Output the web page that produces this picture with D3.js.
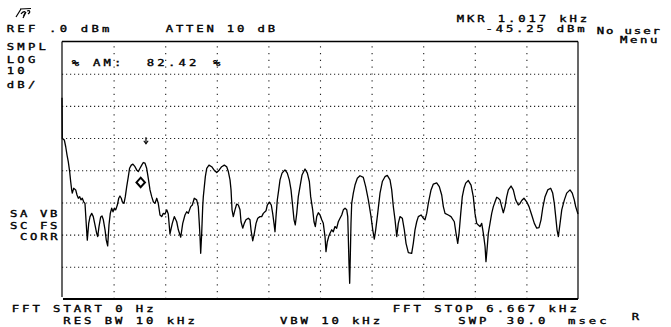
<!DOCTYPE html>
<html>
<head>
<meta charset="utf-8">
<script src="https://cdn.jsdelivr.net/npm/d3@7/dist/d3.min.js"></script>
<style>
  html, body { margin: 0; padding: 0; background: #fff; }
  svg { display: block; }
  text { font-family: "DejaVu Sans Mono", "Liberation Mono", monospace; fill: #000; }
</style>
</head>
<body>
<svg id="chart" width="671" height="327"></svg>
<script>
// Analyzer settings
const startKHz = 0;
const stopKHz = 6.667;
const refLevelDbm = 0;
const dbPerDiv = 10;
const xDivisions = 10;
const yDivisions = 8;

// Marker readout
const markerKHz = 1.017;
const markerDbm = -45.25;
const peakArrowKHz = 1.085;
const peakArrowDbm = -31.6;

// Trace: frequency (kHz) and level (dBm)
const traceKHz = [
  0.000,0.004,0.030,0.048,0.065,0.081,0.099,0.112,0.125,0.133,0.151,0.177,0.194,0.211,0.229,0.245,0.262,0.280,0.297,0.314,
  0.327,0.345,0.362,0.384,0.404,0.426,0.448,0.461,0.478,0.500,0.517,0.534,0.556,0.572,0.590,0.607,0.624,0.642,0.659,0.676,
  0.694,0.715,0.733,0.749,0.766,0.779,0.801,0.818,0.836,0.857,0.873,0.895,0.916,0.943,0.965,0.986,1.008,1.030,1.050,1.072,
  1.094,1.115,1.137,1.159,1.180,1.202,1.224,1.244,1.266,1.288,1.309,1.331,1.353,1.373,1.395,1.425,1.451,1.482,1.503,1.534,
  1.560,1.589,1.611,1.632,1.663,1.684,1.709,1.740,1.761,1.774,1.783,1.792,1.805,1.818,1.826,1.839,1.852,1.870,1.899,1.934,
  1.964,1.999,2.032,2.063,2.097,2.128,2.149,2.171,2.184,2.197,2.213,2.235,2.257,2.278,2.300,2.313,2.335,2.355,2.377,2.407,
  2.429,2.442,2.464,2.485,2.507,2.529,2.558,2.580,2.601,2.636,2.653,2.679,2.704,2.722,2.739,2.752,2.765,2.782,2.800,2.817,
  2.843,2.881,2.911,2.937,2.959,2.981,2.998,3.014,3.033,3.053,3.075,3.101,3.140,3.170,3.196,3.213,3.239,3.256,3.273,3.291,
  3.312,3.334,3.356,3.376,3.398,3.411,3.428,3.446,3.463,3.485,3.505,3.527,3.549,3.570,3.592,3.614,3.635,3.657,3.679,3.692,
  3.699,3.708,3.717,3.725,3.734,3.743,3.764,3.786,3.816,3.850,3.893,3.924,3.958,3.993,4.015,4.035,4.053,4.079,4.109,4.139,
  4.173,4.203,4.238,4.260,4.281,4.303,4.325,4.345,4.367,4.397,4.423,4.445,4.475,4.518,4.539,4.561,4.583,4.604,4.639,4.668,
  4.690,4.712,4.733,4.768,4.798,4.841,4.875,4.906,4.927,4.949,4.991,5.026,5.069,5.091,5.113,5.130,5.152,5.172,5.194,5.216,
  5.250,5.285,5.314,5.336,5.358,5.379,5.401,5.423,5.444,5.466,5.478,5.495,5.508,5.530,5.552,5.573,5.595,5.617,5.637,5.659,
  5.681,5.702,5.724,5.746,5.767,5.802,5.831,5.862,5.896,5.918,5.940,5.969,6.004,6.034,6.069,6.103,6.134,6.163,6.189,6.211,
  6.241,6.276,6.314,6.340,6.361,6.379,6.396,6.413,6.435,6.457,6.491,6.521,6.564,6.593,6.619,6.637,6.667
];
const traceDbm = [
  -17.5,-30.1,-30.6,-32.7,-35.3,-37.3,-40.4,-43.5,-46.1,-47.1,-45.6,-46.1,-47.7,-48.7,-48.2,-49.2,-48.7,-49.8,-50.3,-57.0,
  -61.7,-56.5,-54.4,-53.4,-54.4,-57.0,-59.6,-60.6,-57.5,-54.5,-54.2,-55.4,-58.5,-61.7,-63.5,-57.0,-53.4,-51.8,-52.9,-51.8,
  -52.3,-50.8,-48.7,-48.0,-48.7,-49.8,-50.3,-48.2,-45.1,-42.0,-39.4,-38.4,-38.1,-38.9,-39.9,-40.4,-39.4,-38.4,-37.6,-37.8,
  -39.4,-42.5,-46.1,-48.2,-49.8,-50.3,-48.7,-50.3,-53.9,-54.4,-53.4,-53.6,-52.3,-53.6,-59.8,-56.5,-54.4,-56.0,-58.5,-60.8,
  -56.5,-53.9,-52.9,-53.4,-51.3,-50.8,-48.7,-49.2,-51.3,-56.5,-60.6,-65.8,-59.6,-51.3,-48.2,-45.1,-42.0,-39.4,-38.4,-38.9,
  -39.9,-40.7,-39.9,-38.9,-38.4,-38.9,-40.4,-43.0,-46.1,-52.3,-54.4,-52.3,-50.5,-50.8,-52.3,-56.0,-58.0,-56.5,-55.4,-54.9,
  -55.4,-58.5,-61.9,-59.6,-56.5,-54.9,-54.4,-54.4,-53.4,-52.6,-50.8,-49.9,-50.8,-53.4,-56.5,-59.1,-54.4,-49.2,-46.1,-43.0,
  -40.9,-39.9,-40.9,-43.0,-46.1,-51.3,-55.4,-57.0,-53.4,-48.2,-45.1,-41.5,-39.6,-40.9,-43.5,-48.2,-52.3,-56.0,-57.5,-54.4,
  -53.2,-53.9,-55.4,-56.5,-60.6,-65.3,-62.2,-60.6,-59.6,-58.5,-59.1,-57.5,-58.0,-56.0,-54.9,-53.9,-52.3,-51.8,-52.3,-54.4,
  -60.6,-68.9,-75.1,-66.8,-56.5,-50.3,-47.1,-44.6,-42.5,-41.7,-42.2,-45.1,-49.2,-54.4,-58.5,-61.4,-58.5,-53.4,-47.1,-43.5,
  -42.0,-41.6,-43.0,-46.1,-51.3,-55.4,-60.6,-56.5,-54.4,-54.9,-58.5,-62.7,-65.6,-65.8,-62.7,-58.5,-56.0,-54.4,-53.9,-54.9,
  -55.4,-53.4,-50.3,-46.1,-44.3,-43.9,-45.1,-47.7,-51.3,-53.4,-53.9,-54.4,-56.0,-59.6,-62.7,-59.6,-53.4,-48.2,-45.6,-44.0,
  -43.2,-44.6,-48.2,-53.4,-56.5,-57.0,-57.5,-56.5,-59.6,-63.7,-68.4,-63.7,-59.6,-56.5,-53.4,-51.3,-49.8,-48.4,-48.7,-49.2,
  -51.3,-53.2,-51.3,-48.2,-46.1,-44.9,-46.1,-49.2,-50.8,-50.3,-49.4,-48.7,-49.8,-51.3,-53.9,-56.5,-58.0,-57.8,-55.4,-51.8,
  -48.2,-46.1,-45.6,-47.1,-50.3,-54.4,-58.5,-60.6,-56.5,-52.3,-49.2,-47.1,-46.1,-47.1,-49.2,-51.3,-53.6
];

// Screen annotations
const headerLabels = [
  { text: "REF .0 dBm",     x: 6.7,   y: 32.3,  pitch: 10.6 },
  { text: "ATTEN 10 dB",    x: 165.7, y: 32.3,  pitch: 10.2 },
  { text: "MKR 1.017 kHz",  x: 456.7, y: 22.3,  pitch: 10.25 },
  { text: "-45.25 dBm",     x: 485.5, y: 31.7,  pitch: 10.2 }
];
// Two-line softkey caption, set a touch smaller
const menuCaption = [
  { text: "No user", x: 596.7, y: 34.4, pitch: 9.3 },
  { text: "Menu",    x: 620,   y: 43.0, pitch: 10.0 }
];
const sideLabels = [
  { text: "SMPL",  x: 6.7, y: 50,    pitch: 10.6 },
  { text: "LOG",   x: 6.7, y: 63.3,  pitch: 10.6 },
  { text: "10",    x: 6.7, y: 74,    pitch: 10.6 },
  { text: "dB/",   x: 6.7, y: 87.7,  pitch: 10.6 },
  { text: "SA VB", x: 10,  y: 217,   pitch: 10.0 },
  { text: "SC FS", x: 10,  y: 229,   pitch: 10.0 },
  { text: "CORR",  x: 20,  y: 240,   pitch: 10.1 }
];
const readoutLabels = [
  { text: "% AM:", x: 71.7,  y: 65.7, pitch: 10.6 },
  { text: "82.42", x: 146.7, y: 65.7, pitch: 10.6 },
  { text: "%",     x: 213,   y: 65.7, pitch: 10.6 }
];
const footerLabels = [
  { text: "FFT START 0 Hz",     x: 11.7,  y: 312.3, pitch: 10.35 },
  { text: "RES BW 10 kHz",      x: 63.3,  y: 323.5, pitch: 10.35 },
  { text: "VBW 10 kHz",         x: 280,   y: 323.5, pitch: 10.3 },
  { text: "FFT STOP 6.667 kHz", x: 392.7, y: 311.5, pitch: 10.4 },
  { text: "SWP",                x: 458.3, y: 323.5, pitch: 10.4 },
  { text: "30.0",               x: 506.7, y: 323.5, pitch: 10.4 },
  { text: "msec",               x: 568,   y: 323.5, pitch: 10.4 },
  { text: "R",                  x: 631.7, y: 320,   pitch: 10.4 }
];

const svg = d3.select("#chart");
const plotLeft = 62, plotRight = 578, plotTop = 41.5, plotBottom = 299;

const x = d3.scaleLinear().domain([startKHz, stopKHz]).range([plotLeft, plotRight]);
const y = d3.scaleLinear()
  .domain([refLevelDbm - dbPerDiv * yDivisions, refLevelDbm])
  .range([plotBottom, plotTop]);

// Dotted graticule
const xGrid = d3.range(1, xDivisions).map(i => startKHz + (stopKHz - startKHz) * i / xDivisions);
const yGrid = d3.range(1, yDivisions).map(i => refLevelDbm - dbPerDiv * i);

const gx = svg.append("g")
  .attr("transform", `translate(0,${plotBottom})`)
  .call(d3.axisBottom(x).tickValues(xGrid).tickSize(-(plotBottom - plotTop)).tickFormat(""));
gx.select(".domain").remove();
gx.selectAll(".tick line")
  .attr("stroke", "#222").attr("stroke-width", 1.1).attr("stroke-dasharray", "1.2,5.6");

const gy = svg.append("g")
  .attr("transform", `translate(${plotLeft},0)`)
  .call(d3.axisLeft(y).tickValues(yGrid).tickSize(-(plotRight - plotLeft)).tickFormat(""));
gy.select(".domain").remove();
gy.selectAll(".tick line")
  .attr("stroke", "#222").attr("stroke-width", 1.1).attr("stroke-dasharray", "1.2,2.8");

// Frame
svg.append("line").attr("x1", plotLeft).attr("x2", plotLeft).attr("y1", plotTop).attr("y2", plotBottom - 2)
  .attr("stroke", "#000").attr("stroke-width", 1.2);
svg.append("line").attr("x1", plotRight).attr("x2", plotRight).attr("y1", plotTop).attr("y2", plotBottom)
  .attr("stroke", "#000").attr("stroke-width", 1.2);
svg.append("line").attr("x1", plotLeft).attr("x2", plotRight).attr("y1", plotTop).attr("y2", plotTop)
  .attr("stroke", "#000").attr("stroke-width", 1.3);
svg.append("line").attr("x1", plotLeft + 1).attr("x2", plotRight).attr("y1", plotBottom).attr("y2", plotBottom)
  .attr("stroke", "#000").attr("stroke-width", 2.2);

// Trace
const points = traceKHz.map((f, i) => [f, traceDbm[i]]);
svg.append("path")
  .datum(points)
  .attr("fill", "none")
  .attr("stroke", "#000")
  .attr("stroke-width", 1.3)
  .attr("stroke-linejoin", "round")
  .attr("d", d3.line().x(d => x(d[0])).y(d => y(d[1])));

// Marker diamond sits on the marker level
const mx = x(markerKHz), my = y(markerDbm);
const dh = 9.5, dw = 8.5;
const diamond = `M${mx},${my} L${mx + dw / 2},${my - dh / 2} L${mx},${my - dh} L${mx - dw / 2},${my - dh / 2} Z`;
svg.append("path").attr("d", diamond)
  .attr("fill", "#fff").attr("stroke", "#000").attr("stroke-width", 2);

// Peak arrow
const ax = x(peakArrowKHz), ay = y(peakArrowDbm);
svg.append("line").attr("x1", ax).attr("x2", ax).attr("y1", ay - 6).attr("y2", ay)
  .attr("stroke", "#000").attr("stroke-width", 1.2);
svg.append("path").attr("d", `M${ax - 2.2},${ay - 2.5} L${ax},${ay + 0.5} L${ax + 2.2},${ay - 2.5}`)
  .attr("fill", "none").attr("stroke", "#000").attr("stroke-width", 1.1);

// Logo
svg.append("path")
  .attr("d", "M16,17 L21,9 M20,9 L31,8.5 M21,14 C23,11 26,11 25,13 L23.5,16 M26,12 L23,18 M27,11 C30,10 31,12 28,14")
  .attr("fill", "none").attr("stroke", "#000").attr("stroke-width", 1.2);

// Monospaced screen text, stretched horizontally to the instrument's character pitch
const fontSize = 9, stretch = 1.36;
function drawLabels(list, size = fontSize, scaleX = stretch) {
  const adv = 0.602 * size;
  svg.append("g").selectAll("text").data(list).join("text")
    .attr("transform", d => `translate(${d.x},${d.y}) scale(${scaleX},1)`)
    .attr("font-size", size)
    .attr("stroke", "#000")
    .attr("stroke-width", 0.35)
    .attr("xml:space", "preserve")
    .style("white-space", "pre")
    .attr("letter-spacing", d => d.pitch / scaleX - adv)
    .text(d => d.text);
}
drawLabels(headerLabels);
drawLabels(sideLabels);
drawLabels(readoutLabels);
drawLabels(footerLabels);
drawLabels(menuCaption, 8.2, 1.5);
</script>
</body>
</html>
